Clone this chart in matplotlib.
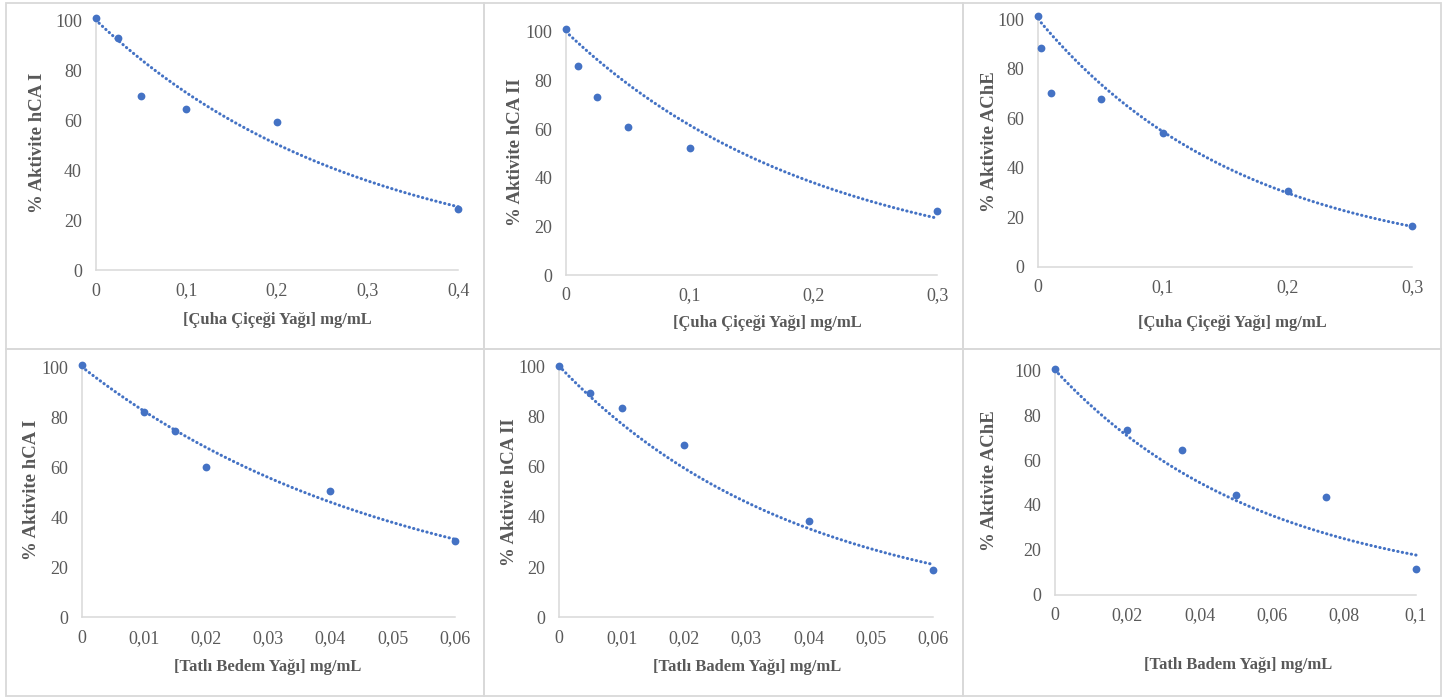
import numpy as np
import matplotlib
matplotlib.use("Agg")
import matplotlib.pyplot as plt
from matplotlib.patches import Rectangle

W, H = 1443, 697

# ---------------- data ----------------
x_cuha_hca1 = [0, 0.025, 0.05, 0.1, 0.2, 0.4]
y_cuha_hca1 = [101, 93, 69.6, 64.4, 59.3, 24.4]

x_cuha_hca2 = [0, 0.01, 0.025, 0.05, 0.1, 0.3]
y_cuha_hca2 = [101, 85.8, 73.3, 61, 52.3, 26.2]

x_cuha_ache = [0, 0.0025, 0.01, 0.05, 0.1, 0.2, 0.3]
y_cuha_ache = [101.3, 88.5, 70.3, 67.7, 54.2, 30.6, 16.4]

x_badem_hca1 = [0, 0.01, 0.015, 0.02, 0.04, 0.06]
y_badem_hca1 = [100.9, 81.9, 74.3, 60.1, 50.5, 30.6]

x_badem_hca2 = [0, 0.005, 0.01, 0.02, 0.04, 0.06]
y_badem_hca2 = [100.1, 89.2, 83.5, 68.8, 38.4, 18.7]

x_badem_ache = [0, 0.02, 0.035, 0.05, 0.075, 0.1]
y_badem_ache = [100.4, 73.3, 64.3, 44.4, 43.7, 11.3]

yticks = [0, 20, 40, 60, 80, 100]
ytick_labels = ["0", "20", "40", "60", "80", "100"]

xticks_04 = [0, 0.1, 0.2, 0.3, 0.4]
xtick_labels_04 = ["0", "0,1", "0,2", "0,3", "0,4"]
xticks_03 = [0, 0.1, 0.2, 0.3]
xtick_labels_03 = ["0", "0,1", "0,2", "0,3"]
xticks_006 = [0, 0.01, 0.02, 0.03, 0.04, 0.05, 0.06]
xtick_labels_006 = ["0", "0,01", "0,02", "0,03", "0,04", "0,05", "0,06"]
xticks_01 = [0, 0.02, 0.04, 0.06, 0.08, 0.1]
xtick_labels_01 = ["0", "0,02", "0,04", "0,06", "0,08", "0,1"]

ylabels = ["% Aktivite hCA I", "% Aktivite hCA II", "% Aktivite AChE",
           "% Aktivite hCA I", "% Aktivite hCA II", "% Aktivite AChE"]
xlabels = ["[Çuha Çiçeği Yağı] mg/mL", "[Çuha Çiçeği Yağı] mg/mL",
           "[Çuha Çiçeği Yağı] mg/mL", "[Tatlı Bedem Yağı] mg/mL",
           "[Tatlı Badem Yağı] mg/mL", "[Tatlı Badem Yağı] mg/mL"]

# ---------------- layout (pixels) ----------------
panels = [
    (x_cuha_hca1, y_cuha_hca1, xticks_04, xtick_labels_04, 95.7, 458.3, 270.0, 20.0, (38, 143), (277, 320)),
    (x_cuha_hca2, y_cuha_hca2, xticks_03, xtick_labels_03, 566.0, 937.3, 275.0, 31.7, (515, 152), (767, 323)),
    (x_cuha_ache, y_cuha_ache, xticks_03, xtick_labels_03, 1038.3, 1412.3, 266.7, 19.3, (990, 142), (1232, 323)),
    (x_badem_hca1, y_badem_hca1, xticks_006, xtick_labels_006, 82.0, 454.7, 617.3, 367.0, (32, 490), (268, 667)),
    (x_badem_hca2, y_badem_hca2, xticks_006, xtick_labels_006, 559.3, 933.3, 617.3, 366.3, (510, 492), (747, 667)),
    (x_badem_ache, y_badem_ache, xticks_01, xtick_labels_01, 1055.3, 1416.0, 594.7, 370.3, (989, 481), (1238, 665)),
]

blue = "#4472C4"
tick_col = "#595959"
label_col = "#595959"
axis_col = "#d9d9d9"
serif = ["Liberation Serif", "DejaVu Serif"]

fig = plt.figure(figsize=(W / 100, H / 100), dpi=100)
fig.patch.set_facecolor("white")

# panel frames
col_edges = [5.5, 484.3, 962.7, 1441.0]
row_edges = [2.7, 349.3, 695.5]
for r in range(2):
    for c in range(3):
        x0, x1 = col_edges[c], col_edges[c + 1]
        y0, y1 = row_edges[r], row_edges[r + 1]
        fig.add_artist(Rectangle((x0 / W, 1 - y1 / H), (x1 - x0) / W, (y1 - y0) / H,
                                 transform=fig.transFigure, fill=False,
                                 edgecolor="#d9d9d9", linewidth=1.3))

for i, (xd, yd, xt, xtl, x0, x1, y0, y100, ylp, xlp) in enumerate(panels):
    ax = fig.add_axes([x0 / W, 1 - y0 / H, (x1 - x0) / W, (y0 - y100) / H])
    ax.set_xlim(0, xt[-1])
    ax.set_ylim(0, 100)
    ax.set_facecolor("none")

    xd = np.asarray(xd, float)
    yd = np.asarray(yd, float)
    # exponential trendline with intercept fixed at 100 (least squares on ln y)
    b = np.sum(xd * np.log(yd / 100.0)) / np.sum(xd ** 2)
    xx = np.linspace(0, xd.max(), 300)
    ax.plot(xx, 100.0 * np.exp(b * xx), color=blue, linewidth=2.2,
            linestyle=(0, (0.1, 1.4)), dash_capstyle="round", clip_on=False, zorder=2)
    ax.plot(xd, yd, "o", color=blue, markersize=5.6, markeredgewidth=0,
            clip_on=False, zorder=3)

    for s in ["top", "right"]:
        ax.spines[s].set_visible(False)
    for s in ["left", "bottom"]:
        ax.spines[s].set_color(axis_col)
        ax.spines[s].set_linewidth(1.1)

    ax.set_xticks(xt)
    ax.set_xticklabels(xtl)
    ax.set_yticks(yticks)
    ax.set_yticklabels(ytick_labels)
    ax.tick_params(axis="both", length=0, colors=tick_col, labelsize=13)
    ax.tick_params(axis="x", pad=9)
    ax.tick_params(axis="y", pad=10)
    for lab in ax.get_xticklabels() + ax.get_yticklabels():
        lab.set_family(serif)

    fig.text(ylp[0] / W, 1 - ylp[1] / H, ylabels[i], rotation=90, ha="center", va="center",
             fontsize=13.5, fontweight="bold", color=label_col, family=serif)
    fig.text(xlp[0] / W, 1 - xlp[1] / H, xlabels[i], ha="center", va="center",
             fontsize=12, fontweight="bold", color=label_col, family=serif)

fig.savefig("out.png", dpi=100, facecolor="white")
